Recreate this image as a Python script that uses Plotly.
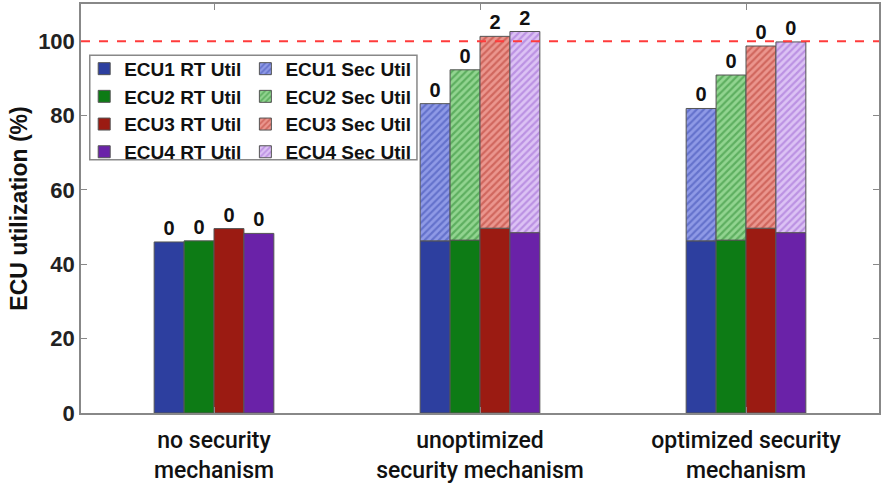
import plotly.graph_objects as go

categories = ["no security<br>mechanism", "unoptimized<br>security mechanism", "optimized security<br>mechanism"]
ecus = ["ECU1", "ECU2", "ECU3", "ECU4"]
rt_util = {
    "ECU1": [46.0, 46.3, 46.3],
    "ECU2": [46.3, 46.5, 46.5],
    "ECU3": [49.6, 49.7, 49.7],
    "ECU4": [48.3, 48.5, 48.5],
}
total_util = {
    "ECU1": [46.0, 83.2, 81.9],
    "ECU2": [46.3, 92.3, 90.9],
    "ECU3": [49.6, 101.3, 98.7],
    "ECU4": [48.3, 102.6, 99.8],
}
misses = {
    "ECU1": [0, 0, 0],
    "ECU2": [0, 0, 0],
    "ECU3": [0, 2, 0],
    "ECU4": [0, 2, 0],
}
y_ticks = [0, 20, 40, 60, 80, 100]

rt_colors = {"ECU1": "#2d3f9f", "ECU2": "#0d7b15", "ECU3": "#9b1b12", "ECU4": "#6a22a8"}
sec_bg = {"ECU1": "#8f9ae6", "ECU2": "#92d490", "ECU3": "#eb968e", "ECU4": "#dcc2f4"}
sec_fg = {"ECU1": "#3a4ab2", "ECU2": "#2a8a30", "ECU3": "#b5382e", "ECU4": "#9c62d2"}

fam = "Liberation Sans, Arial"
txtfont = dict(family=fam, size=20, color="#111")

fig = go.Figure()
for i, e in enumerate(ecus):
    rt = rt_util[e]
    sec = [t - r for t, r in zip(total_util[e], rt)]
    rt_text = [str(misses[e][0]), "", ""]
    sec_text = ["", str(misses[e][1]), str(misses[e][2])]
    fig.add_trace(go.Bar(
        x=categories, y=rt, name=f"<b>{e} RT Util</b>", offsetgroup=e,
        marker=dict(color=rt_colors[e], line=dict(color="#555", width=1)),
        text=rt_text, textposition="outside", cliponaxis=False,
        textfont=txtfont, texttemplate="<b>%{text}</b>",
        legend="legend", legendrank=i,
    ))
    fig.add_trace(go.Bar(
        x=categories, y=[s if s > 0 else None for s in sec], base=rt, name=f"<b>{e} Sec Util</b>", offsetgroup=e,
        marker=dict(color=sec_bg[e], line=dict(color="#555", width=1),
                    pattern=dict(shape="/", fgcolor=sec_fg[e], bgcolor=sec_bg[e], size=5, solidity=0.45)),
        text=sec_text, textposition="outside", cliponaxis=False,
        textfont=txtfont, texttemplate="<b>%{text}</b>",
        legend="legend2", legendrank=i,
    ))

fig.add_shape(type="line", xref="paper", yref="y", x0=0, x1=1, y0=100, y1=100,
              line=dict(color="#ff3b3b", width=2, dash="dash"))
fig.add_shape(type="rect", xref="paper", yref="paper", x0=0.011, x1=0.421, y0=0.619, y1=0.875,
              line=dict(color="#888", width=1.5), fillcolor="rgba(255,255,255,0)")

legfont = dict(family=fam, size=19, color="#111")
fig.update_layout(
    width=883, height=494,
    margin=dict(l=81, r=2, t=4, b=81),
    plot_bgcolor="white", paper_bgcolor="white",
    barmode="group", bargap=0.55, bargroupgap=0,
    showlegend=True,
    legend=dict(x=0.004, y=0.888, xanchor="left", yanchor="top", font=legfont,
                bgcolor="rgba(0,0,0,0)", tracegroupgap=0, traceorder="normal"),
    legend2=dict(x=0.206, y=0.888, xanchor="left", yanchor="top", font=legfont,
                 bgcolor="rgba(0,0,0,0)", tracegroupgap=0, traceorder="normal"),
    xaxis=dict(range=[-0.5, 2.5], showline=True, mirror="ticks", linecolor="#888", linewidth=1.5,
               ticks="inside", ticklen=6, tickcolor="#888", ticklabelstandoff=6,
               tickfont=dict(family="Roboto", size=23, weight=500, color="#111")),
    yaxis=dict(range=[0, 110], tickvals=y_ticks, showline=True, mirror="ticks", linecolor="#888", linewidth=1.5,
               ticks="inside", ticklen=6, tickcolor="#888", showgrid=False, zeroline=False,
               tickfont=dict(family=fam, size=22, weight="bold", color="#222"),
               title=dict(text="<b>ECU utilization (%)</b>", standoff=4,
                          font=dict(family=fam, size=23, color="#111"))),
)
fig.write_html("out.html", config={"displayModeBar": False},
               post_script="document.body.style.margin='0';")
